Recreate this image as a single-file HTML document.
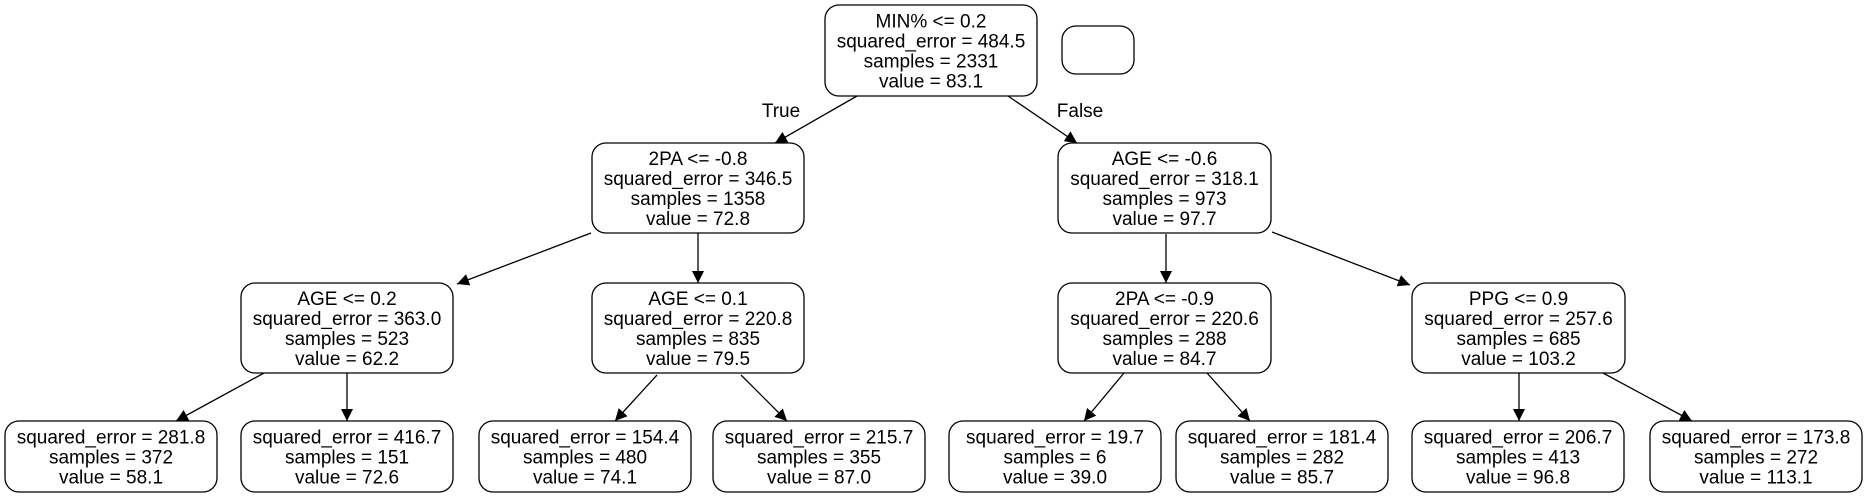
<!DOCTYPE html>
<html><head><meta charset="utf-8"><style>
html,body{margin:0;padding:0;background:#fff;}
svg{display:block;}
text{font-family:"Liberation Sans",Arial,sans-serif;font-size:19px;fill:#000;}
</style></head><body>
<svg id="tree" width="1864" height="497" viewBox="0 0 1864 497" xmlns="http://www.w3.org/2000/svg">
<defs><marker id="ah" viewBox="0 0 10 10" refX="10" refY="5" markerWidth="12" markerHeight="12" markerUnits="userSpaceOnUse" orient="auto"><path d="M0,0 L10,5 L0,10 z" fill="#000"/></marker></defs>
<g id="edges"></g><g id="nodes"></g>
<rect x="1062" y="26" width="72" height="48" rx="14" fill="#fff" stroke="#000" stroke-width="1.3"/>
<text x="781" y="117" text-anchor="middle">True</text>
<text x="1080" y="117" text-anchor="middle">False</text>
</svg>
<script>
const nodeNames=['root','n-2pa','n-age-r','n-age-02','n-age-01','n-2pa-09','n-ppg','leaf-1','leaf-2','leaf-3','leaf-4','leaf-5','leaf-6','leaf-7','leaf-8'];
const nodeTexts=[
["MIN% <= 0.2","squared_error = 484.5","samples = 2331","value = 83.1"],
["2PA <= -0.8","squared_error = 346.5","samples = 1358","value = 72.8"],
["AGE <= -0.6","squared_error = 318.1","samples = 973","value = 97.7"],
["AGE <= 0.2","squared_error = 363.0","samples = 523","value = 62.2"],
["AGE <= 0.1","squared_error = 220.8","samples = 835","value = 79.5"],
["2PA <= -0.9","squared_error = 220.6","samples = 288","value = 84.7"],
["PPG <= 0.9","squared_error = 257.6","samples = 685","value = 103.2"],
["squared_error = 281.8","samples = 372","value = 58.1"],
["squared_error = 416.7","samples = 151","value = 72.6"],
["squared_error = 154.4","samples = 480","value = 74.1"],
["squared_error = 215.7","samples = 355","value = 87.0"],
["squared_error = 19.7","samples = 6","value = 39.0"],
["squared_error = 181.4","samples = 282","value = 85.7"],
["squared_error = 206.7","samples = 413","value = 96.8"],
["squared_error = 173.8","samples = 272","value = 113.1"]];
const boxes=[[825,5,212,91],[592,143,212,90],[1058,143,213,90],[241,283,212,90],[592,283,212,90],[1058,283,213,90],[1412,283,213,90],
[5,421,212,71],[241,421,212,71],[479,421,212,71],[713,421,212,71],[949,421,212,71],[1176,421,212,71],[1412,421,212,71],[1650,421,212,71]];
const edgeList=[[857,96,775,143],[1008,96,1077,143],[591,233,457,284],[698,233,698,283],[1166,234,1166,283],[1272,232,1410,285],
[264,373,176,421],[347,373,347,421],[657,375,615,421],[741,375,787,421],[1124,373,1084,421],[1207,373,1250,421],[1519,373,1519,421],[1603,373,1692,421]];
const NS="http://www.w3.org/2000/svg";
const eg=document.getElementById('edges'),ng=document.getElementById('nodes');
edgeList.forEach((e,i)=>{const l=document.createElementNS(NS,'line');


l.setAttribute('x1',e[0]);l.setAttribute('y1',e[1]);l.setAttribute('x2',e[2]);l.setAttribute('y2',e[3]);
l.setAttribute('stroke','#000');l.setAttribute('stroke-width','1.3');l.setAttribute('marker-end','url(#ah)');eg.appendChild(l);});
boxes.forEach((b,i)=>{const g=document.createElementNS(NS,'g');


const r=document.createElementNS(NS,'rect');
r.setAttribute('x',b[0]);r.setAttribute('y',b[1]);r.setAttribute('width',b[2]);r.setAttribute('height',b[3]);r.setAttribute('rx',14);
r.setAttribute('fill','#fff');r.setAttribute('stroke','#000');r.setAttribute('stroke-width','1.3');g.appendChild(r);
const lines=nodeTexts[i];const cy=b[1]+b[3]/2;const start=cy-(lines.length-1)*10;
lines.forEach((t,j)=>{const tx=document.createElementNS(NS,'text');
tx.setAttribute('x',b[0]+b[2]/2);tx.setAttribute('y',start+j*20+7);tx.setAttribute('text-anchor','middle');tx.textContent=t;g.appendChild(tx);});
ng.appendChild(g);});
</script>
</body></html>
